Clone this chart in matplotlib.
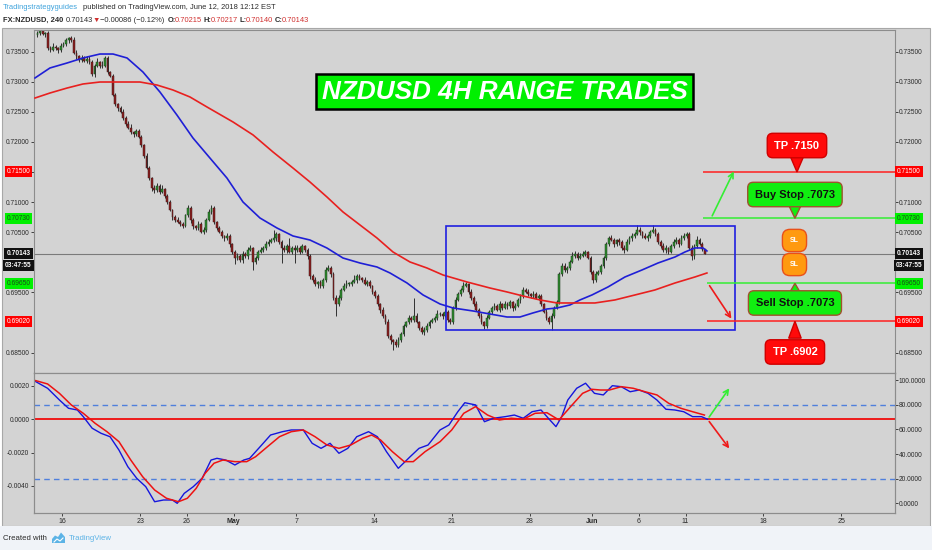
import numpy as np
import matplotlib.pyplot as plt
from matplotlib.patches import Rectangle, Polygon
from matplotlib.ticker import FormatStrFormatter
import matplotlib.transforms as mtransforms

plt.rcParams['font.family'] = ['Liberation Sans', 'DejaVu Sans']

W, H = 932, 550

# ---------------- data (x in trading days, Apr 16 2018 = 0) ----------------
bar_start_day = -1.6
first_open = 0.7378
closes = [
    0.7381, 0.7384, 0.7379, 0.7381, 0.7356, 0.7353, 0.7358, 0.7356, 0.7353, 0.7359,
    0.7363, 0.7369, 0.7373, 0.7369, 0.7348, 0.7343, 0.7336, 0.7339, 0.7334, 0.7338,
    0.7333, 0.7313, 0.7326, 0.7333, 0.7326, 0.7326, 0.7339, 0.7316, 0.7310, 0.7278,
    0.7263, 0.7256, 0.7250, 0.7240, 0.7230, 0.7223, 0.7216, 0.7213, 0.7218, 0.7208,
    0.7195, 0.7177, 0.7157, 0.7140, 0.7123, 0.7120, 0.7127, 0.7117, 0.7122, 0.7110,
    0.7100, 0.7087, 0.7075, 0.7070, 0.7067, 0.7064, 0.7060, 0.7079, 0.7090, 0.7070,
    0.7060, 0.7057, 0.7064, 0.7050, 0.7054, 0.7070, 0.7084, 0.7090, 0.7067, 0.7057,
    0.7050, 0.7044, 0.7040, 0.7044, 0.7030, 0.7017, 0.7007, 0.7010, 0.7004, 0.7014,
    0.7010, 0.7020, 0.7024, 0.7000, 0.7007, 0.7017, 0.7020, 0.7024, 0.7030, 0.7034,
    0.7037, 0.7040, 0.7047, 0.7034, 0.7024, 0.7020, 0.7027, 0.7017, 0.7024, 0.7020,
    0.7024, 0.7017, 0.7027, 0.7020, 0.7010, 0.6977, 0.6971, 0.6964, 0.6967, 0.6961,
    0.6971, 0.6987, 0.6991, 0.6981, 0.6941, 0.6931, 0.6941, 0.6954, 0.6961, 0.6964,
    0.6964, 0.6967, 0.6971, 0.6977, 0.6974, 0.6971, 0.6964, 0.6967, 0.6961, 0.6951,
    0.6944, 0.6931, 0.6921, 0.6911, 0.6901, 0.6878, 0.6871, 0.6868, 0.6863, 0.6871,
    0.6881, 0.6894, 0.6901, 0.6908, 0.6904, 0.6911, 0.6901, 0.6891, 0.6884, 0.6888,
    0.6894, 0.6901, 0.6904, 0.6908, 0.6914, 0.6914, 0.6911, 0.6918, 0.6904, 0.6901,
    0.6924, 0.6937, 0.6947, 0.6954, 0.6961, 0.6964, 0.6951, 0.6941, 0.6931, 0.6921,
    0.6911, 0.6901, 0.6894, 0.6908, 0.6918, 0.6924, 0.6927, 0.6921, 0.6931, 0.6924,
    0.6931, 0.6927, 0.6934, 0.6924, 0.6927, 0.6937, 0.6944, 0.6954, 0.6951, 0.6947,
    0.6944, 0.6947, 0.6941, 0.6944, 0.6931, 0.6918, 0.6908, 0.6901, 0.6911, 0.6924,
    0.6934, 0.6981, 0.6994, 0.6987, 0.6991, 0.7001, 0.7011, 0.7014, 0.7007, 0.7011,
    0.7014, 0.7017, 0.7007, 0.6984, 0.6971, 0.6981, 0.6984, 0.6994, 0.7007, 0.7030,
    0.7040, 0.7037, 0.7030, 0.7037, 0.7034, 0.7024, 0.7020, 0.7034, 0.7040, 0.7044,
    0.7047, 0.7054, 0.7050, 0.7044, 0.7040, 0.7044, 0.7050, 0.7054, 0.7047, 0.7034,
    0.7027, 0.7020, 0.7024, 0.7017, 0.7027, 0.7034, 0.7037, 0.7030, 0.7040, 0.7044,
    0.7047, 0.7024, 0.7010, 0.7027, 0.7037, 0.7030, 0.7022, 0.70143,
]
# wicks in pips beyond the body
wick_up = [
    4, 3, 5, 2, 3, 4, 6, 3, 2, 5, 3, 4, 2, 3, 5, 4, 2, 6, 3, 4,
    5, 3, 4, 6, 2, 8, 3, 4, 2, 3, 4, 2, 3, 5, 3, 4, 6, 2, 3, 4,
    3, 2, 4, 3, 2, 5, 4, 3, 6, 2, 3, 4, 2, 3, 5, 4, 3, 2, 5, 3,
    4, 2, 5, 3, 4, 3, 5, 5, 4, 2, 3, 4, 2, 5, 3, 2, 4, 6, 3, 4,
    3, 5, 4, 2, 3, 4, 5, 3, 6, 4, 3, 13, 4, 2, 3, 5, 4, 13, 3, 4,
    5, 3, 4, 2, 3, 4, 3, 5, 2, 4, 3, 5, 4, 2, 3, 4, 5, 3, 4, 6,
    3, 4, 8, 3, 4, 2, 5, 3, 4, 2, 3, 4, 2, 5, 3, 4, 3, 2, 4, 5,
    3, 4, 2, 5, 3, 30, 4, 2, 3, 4, 5, 3, 4, 2, 6, 3, 4, 5, 2, 3,
    4, 5, 3, 4, 6, 3, 2, 4, 3, 5, 3, 4, 2, 5, 3, 4, 6, 3, 4, 2,
    5, 3, 4, 2, 6, 3, 4, 5, 3, 4, 2, 5, 3, 4, 3, 2, 4, 3, 5, 3,
    4, 3, 5, 4, 2, 3, 6, 4, 3, 5, 4, 3, 2, 4, 3, 5, 4, 3, 4, 3,
    4, 5, 3, 2, 4, 3, 5, 4, 3, 4, 3, 8, 4, 2, 5, 3, 4, 8, 3, 4,
    3, 5, 4, 2, 3, 4, 5, 3, 6, 4, 4, 3, 5, 4, 6, 3, 4, 0,
]
wick_dn = [
    3, 4, 2, 5, 3, 4, 2, 3, 5, 4, 2, 3, 4, 3, 2, 5, 3, 4, 2, 3,
    4, 3, 5, 2, 4, 3, 2, 4, 3, 2, 3, 4, 2, 3, 4, 2, 3, 5, 3, 2,
    4, 3, 2, 3, 4, 5, 3, 4, 2, 3, 3, 2, 4, 3, 2, 4, 3, 2, 3, 4,
    5, 3, 4, 2, 3, 4, 2, 3, 4, 3, 2, 3, 4, 3, 5, 4, 10, 3, 4, 5,
    3, 4, 2, 13, 3, 4, 2, 3, 4, 3, 2, 3, 4, 3, 25, 3, 4, 2, 3, 22,
    3, 4, 2, 3, 4, 5, 3, 4, 6, 3, 4, 3, 2, 5, 4, 20, 3, 4, 2, 3,
    4, 3, 2, 5, 3, 4, 2, 3, 4, 3, 4, 3, 5, 4, 3, 4, 6, 14, 4, 3,
    3, 4, 2, 3, 4, 3, 2, 4, 3, 5, 3, 4, 2, 3, 4, 3, 5, 2, 4, 3,
    3, 4, 2, 3, 4, 2, 3, 4, 3, 2, 3, 4, 5, 3, 2, 4, 3, 2, 4, 3,
    2, 4, 3, 5, 3, 2, 4, 3, 2, 3, 4, 3, 2, 3, 4, 3, 4, 3, 13, 3,
    2, 3, 4, 3, 5, 3, 2, 4, 3, 2, 3, 4, 2, 4, 5, 3, 2, 4, 3, 4,
    3, 2, 4, 3, 5, 3, 4, 2, 3, 4, 3, 2, 4, 3, 2, 4, 3, 2, 4, 3,
    4, 3, 5, 3, 2, 4, 3, 4, 2, 3, 4, 3, 6, 4, 3, 2, 4, 0,
]

blue_ma_day = [-1.76, -0.80, 0.30, 1.32, 2.41, 3.25, 4.15, 5.17, 6.26, 7.35, 8.38, 9.47,
               10.56, 11.59, 12.68, 13.77, 14.80, 15.89, 16.98, 18.01, 19.10, 20.19, 21.03,
               22.12, 23.15, 24.24, 25.07, 26.36, 27.44, 28.54, 29.37, 30.20, 31.10, 31.75,
               32.58, 33.22, 33.99, 35.02, 36.11, 37.20, 38.23, 39.32, 39.96, 40.60, 41.12, 41.37]
blue_ma = [0.73062, 0.73228, 0.73311, 0.73394, 0.73460, 0.73460, 0.73394, 0.73161, 0.72829,
           0.72447, 0.72065, 0.71732, 0.71400, 0.71002, 0.70736, 0.70570, 0.70437, 0.70370,
           0.70237, 0.70071, 0.69988, 0.69922, 0.69822, 0.69656, 0.69457, 0.69307, 0.69241,
           0.69191, 0.69141, 0.69091, 0.69091, 0.69158, 0.69224, 0.69241, 0.69291, 0.69374,
           0.69457, 0.69590, 0.69756, 0.69872, 0.69988, 0.70088, 0.70171, 0.70238, 0.70238, 0.70188]
red_ma_day = [-1.76, -0.80, 0.30, 1.32, 2.41, 3.50, 4.98, 6.07, 7.10, 8.19, 9.28, 10.95,
              12.24, 13.52, 14.80, 15.89, 16.98, 18.01, 19.10, 20.19, 21.22, 22.31, 23.40,
              24.43, 25.97, 27.44, 28.54, 29.57, 30.66, 31.75, 32.90, 34.18, 35.46, 36.75,
              38.03, 39.32, 40.60, 41.37]
red_ma = [0.72729, 0.72812, 0.72895, 0.72962, 0.72995, 0.72995, 0.72995, 0.72945, 0.72862,
          0.72746, 0.72580, 0.72331, 0.72115, 0.71832, 0.71566, 0.71334, 0.71085, 0.70836,
          0.70620, 0.70404, 0.70171, 0.70005, 0.69905, 0.69789, 0.69673, 0.69573, 0.69507,
          0.69440, 0.69374, 0.69324, 0.69324, 0.69324, 0.69374, 0.69457, 0.69540, 0.69656,
          0.69756, 0.69822]

# oscillator, 0-100 scale
osc_blue_day = [-1.71, -0.95, -0.19, 0.39, 0.96, 1.34, 1.91, 2.48, 3.06, 3.63, 4.20, 4.77,
                5.35, 5.92, 6.49, 7.06, 7.37, 7.82, 8.40, 8.97, 9.54, 9.92, 10.49, 11.07,
                11.64, 12.02, 12.79, 13.36, 14.12, 14.69, 15.46, 16.03, 16.60, 17.18, 17.75,
                18.32, 18.89, 19.65, 20.22, 20.80, 21.56, 22.32, 22.89, 23.47, 24.24, 24.81,
                25.38, 25.83, 26.52, 27.09, 27.67, 28.43, 29.01, 29.58, 30.15, 30.72, 31.29,
                31.68, 32.05, 32.44, 33.01, 33.58, 34.15, 34.72, 35.30, 35.87, 36.44, 37.02,
                37.59, 38.16, 38.74, 39.31, 39.88, 40.45, 41.02, 41.41]
osc_blue = [98.7, 93.3, 83.8, 77.1, 75.7, 70.3, 60.9, 56.8, 54.0, 43.2, 29.7, 20.3,
            13.5, 1.3, 2.7, 2.7, 0.0, 8.1, 13.5, 20.3, 35.1, 36.5, 35.1, 31.1,
            35.1, 36.5, 47.3, 55.4, 58.1, 59.5, 59.5, 48.7, 44.6, 48.7, 40.6,
            44.6, 54.0, 58.1, 54.0, 41.9, 28.4, 37.8, 44.6, 47.3, 59.5, 63.5,
            74.3, 81.6, 79.8, 66.2, 69.0, 70.3, 71.6, 69.0, 74.3, 75.7, 67.6,
            62.2, 70.3, 83.8, 93.3, 97.4, 89.2, 87.9, 95.4, 94.6, 90.5, 91.9,
            89.2, 83.8, 76.3, 75.7, 74.3, 70.3, 70.3, 68.2]
osc_red_day = [-1.71, -0.95, -0.19, 0.57, 1.34, 2.10, 2.86, 3.63, 4.39, 5.15, 5.92, 6.68,
               7.45, 8.02, 8.59, 9.16, 9.73, 10.30, 11.07, 11.83, 12.40, 13.16, 13.93,
               14.69, 15.46, 16.22, 16.98, 17.75, 18.51, 19.27, 19.85, 20.42, 21.18, 21.94,
               22.52, 23.28, 24.24, 24.99, 25.76, 26.52, 27.29, 28.05, 28.81, 29.58, 30.34,
               31.10, 31.87, 32.62, 33.39, 33.97, 34.54, 35.11, 35.87, 36.64, 37.40, 38.16,
               38.92, 39.69, 40.45, 41.21]
osc_red = [99.5, 96.8, 89.2, 79.8, 73.0, 64.9, 58.1, 50.0, 35.1, 21.6, 10.8, 4.1,
           1.3, 4.1, 12.2, 24.3, 32.5, 35.1, 33.8, 33.8, 37.8, 45.9, 54.0,
           58.1, 59.5, 54.0, 47.3, 44.6, 47.3, 52.7, 55.4, 51.4, 41.9, 33.8,
           33.8, 41.9, 50.0, 59.5, 73.0, 78.4, 71.6, 67.6, 69.0, 68.2, 73.0,
           73.5, 67.6, 78.4, 89.2, 92.5, 91.9, 91.9, 94.6, 93.3, 90.5, 87.9,
           81.1, 77.1, 74.3, 71.6]

date_ticks = [0, 5, 8, 11, 15, 20, 25, 30, 34, 37, 40, 45, 50]
date_labels = ['16', '23', '26', 'May', '7', '14', '21', '28', 'Jun', '6', '11', '18', '25']
# 0.70000 and 0.69000 are hidden behind the coloured level tags in the original
price_ticks = [0.735, 0.730, 0.725, 0.720, 0.715, 0.710, 0.705, 0.695, 0.685]

last_price = 0.70143
tp_high, buy_stop, sell_stop, tp_low = 0.7150, 0.7073, 0.6965, 0.6902
range_top, range_bottom, range_start, range_end = 0.7060, 0.68875, 24.62, 43.17

osc_upper, osc_lower, osc_zero = 80, 20, 68.15
osc_per_unit = 13520  # oscillator-scale units per 1.0 of the left (price diff) scale
left_osc_ticks = [0.0020, 0.0000, -0.0020, -0.0040]
right_osc_ticks = [0, 20, 40, 60, 80, 100]

XLIM = (-1.855, 53.41)
PLOT_BG = '#d3d3d3'
FRAME = '#8c8c8c'
TXT = '#2a2a2a'


def fx(x):
    return x / W


def fy(y):
    return 1 - y / H


fig = plt.figure(figsize=(W / 100, H / 100), dpi=100)
fig.patch.set_facecolor('white')

# chart container and footer
fig.add_artist(Rectangle((fx(2), fy(526)), fx(928), (526 - 28) / H, transform=fig.transFigure,
                         facecolor=PLOT_BG, edgecolor='#a8a8a8', lw=0.8, zorder=0))
fig.add_artist(Rectangle((0, 0), 1, 24 / H, transform=fig.transFigure,
                         facecolor='#f0f3f8', edgecolor='none', zorder=0))

ax = fig.add_axes([fx(33.5), fy(372.5), (894.5 - 33.5) / W, (372.5 - 30) / H])
ax2 = fig.add_axes([fx(33.5), fy(512.7), (894.5 - 33.5) / W, (512.7 - 372.5) / H], sharex=ax)
for a in (ax, ax2):
    a.set_facecolor(PLOT_BG)
    for s in a.spines.values():
        s.set_color(FRAME)
        s.set_linewidth(0.8)

# ---------------- candles ----------------
closes = np.array(closes)
opens = np.concatenate([[first_open], closes[:-1]])
highs = np.maximum(opens, closes) + np.array(wick_up) * 1e-4
lows = np.minimum(opens, closes) - np.array(wick_dn) * 1e-4
days = bar_start_day + np.arange(len(closes)) / 6.0
up = closes >= opens

ax.vlines(days, lows, highs, color='#303030', lw=0.7, zorder=2)
body_lo = np.minimum(opens, closes)
body_h = np.maximum(np.abs(closes - opens), 0.00008)
ax.bar(days[up], body_h[up], bottom=body_lo[up], width=0.115, color='#2e8b2e',
       edgecolor='#1d3d1d', lw=0.35, zorder=2)
ax.bar(days[~up], body_h[~up], bottom=body_lo[~up], width=0.115, color='#8b1c1c',
       edgecolor='#3d1d1d', lw=0.35, zorder=2)

ax.plot(blue_ma_day, blue_ma, color='#1f1fd6', lw=1.2, zorder=3)
ax.plot(red_ma_day, red_ma, color='#e8201f', lw=1.2, zorder=3)

ax.axhline(last_price, color='#7a7a7a', lw=0.8, zorder=1)

# range box, levels and arrows
ax.add_patch(Rectangle((range_start, range_bottom), range_end - range_start, range_top - range_bottom,
                       fill=False, edgecolor='#2020e0', lw=1.2, zorder=4))
ax.hlines([tp_high], 41.12, XLIM[1], color='#ff2020', lw=1.1, zorder=4)
ax.hlines([buy_stop], 41.12, XLIM[1], color='#33ee33', lw=1.1, zorder=4)
ax.hlines([sell_stop], 41.37, XLIM[1], color='#33ee33', lw=1.1, zorder=4)
ax.hlines([tp_low], 41.37, XLIM[1], color='#ff2020', lw=1.1, zorder=4)
ax.annotate('', xy=(43.17, 0.71550), xytext=(41.63, buy_stop),
            arrowprops=dict(arrowstyle='->', color='#33ee33', lw=1.2, mutation_scale=9), zorder=5)
ax.annotate('', xy=(43.04, 0.69025), xytext=(41.44, sell_stop),
            arrowprops=dict(arrowstyle='->', color='#ee1a1a', lw=1.2, mutation_scale=9), zorder=5)

# title
ax.text(28.38, 0.72837, 'NZDUSD 4H RANGE TRADES', ha='center', va='center', fontsize=18.8,
        fontweight='bold', fontstyle='italic', color='white', zorder=6,
        bbox=dict(boxstyle='square,pad=0.2', fc='#00f000', ec='black', lw=1.8))


def callout(x, y, tip, text, fc, ec, tc, size=8, pad=0.65, hw=0.4):
    base = y - (y - tip) * 0.45
    ax.add_patch(Polygon([(x - hw, base), (x + hw, base), (x, tip)], closed=True,
                         facecolor=fc, edgecolor=ec, lw=1.0, zorder=6))
    ax.text(x, y, text, ha='center', va='center', fontsize=size, fontweight='bold', color=tc,
            zorder=7, bbox=dict(boxstyle='round,pad=%s,rounding_size=0.5' % pad, fc=fc, ec=ec, lw=1.0))


callout(47.15, 0.71940, tp_high, 'TP .7150', '#ff0a0a', '#d00000', 'white')
callout(47.02, 0.71126, buy_stop, 'Buy Stop .7073', '#11ee11', '#a0522d', '#111111')
callout(47.02, 0.69324, sell_stop, 'Sell Stop .7073', '#11ee11', '#a0522d', '#111111')
callout(47.02, 0.68510, tp_low, 'TP .6902', '#ff0a0a', '#d00000', 'white')
for yv in (0.70362, 0.69963):
    ax.text(46.99, yv, 'SL', ha='center', va='center', fontsize=5, fontweight='bold', color='white',
            zorder=7, bbox=dict(boxstyle='round,pad=1.1', fc='#ff9a10', ec='#e8501a', lw=1.0))

ax.set_xlim(*XLIM)
ax.set_ylim(0.68169, 0.73859)
ax.set_yticks(price_ticks)
ax.yaxis.set_major_formatter(FormatStrFormatter('%.5f'))
ax.tick_params(axis='y', left=True, right=True, labelleft=True, labelright=True,
               labelsize=4.8, length=2, pad=1, colors=TXT, width=0.6)
ax.tick_params(axis='x', bottom=False, labelbottom=False)

# colored price labels on both scales
left_tr = mtransforms.blended_transform_factory(fig.transFigure, ax.transData)
tags = [(tp_high, '0.71500', '#ff0000', 'white'),
        (buy_stop, '0.70730', '#00f000', '#1a4d1a'),
        (last_price, '0.70143', '#111111', 'white'),
        (last_price - 0.0019, '03:47:55', '#111111', 'white'),
        (sell_stop, '0.69650', '#00f000', '#1a4d1a'),
        (tp_low, '0.69020', '#ff0000', 'white')]
for yv, s, bg, fg in tags:
    for xc in (fx(18.5), fx(909)):
        ax.text(xc, yv, s, transform=left_tr, ha='center', va='center', fontsize=4.8,
                color=fg, fontweight='bold' if bg == '#111111' else 'normal', zorder=8, clip_on=False,
                bbox=dict(boxstyle='square,pad=0.3', fc=bg, ec='none'))

# ---------------- oscillator panel ----------------
ax2.axhline(osc_upper, color='#4f7fdc', lw=1.0, ls=(0, (4, 3)), zorder=2)
ax2.axhline(osc_lower, color='#4f7fdc', lw=1.0, ls=(0, (4, 3)), zorder=2)
ax2.axhline(osc_zero, color='#ee1a1a', lw=1.4, zorder=2)
ax2.plot(osc_blue_day, osc_blue, color='#1515dd', lw=1.0, zorder=3)
ax2.plot(osc_red_day, osc_red, color='#ee1111', lw=1.1, zorder=4)
ax2.annotate('', xy=(42.91, 95.2), xytext=(41.41, osc_zero),
             arrowprops=dict(arrowstyle='->', color='#33ee33', lw=1.2, mutation_scale=9), zorder=5)
ax2.annotate('', xy=(42.91, 42.7), xytext=(41.41, osc_zero),
             arrowprops=dict(arrowstyle='->', color='#ee1a1a', lw=1.2, mutation_scale=9), zorder=5)

ylim2 = (-7.6, 106.1)
ax2.set_ylim(*ylim2)
ax2.set_yticks([osc_zero + v * osc_per_unit for v in left_osc_ticks])
ax2.set_yticklabels(['%.4f' % v for v in left_osc_ticks])
ax2.tick_params(axis='y', labelsize=4.8, length=2, pad=1, colors=TXT, width=0.6)
ax2.set_xticks(date_ticks)
ax2.set_xticklabels(date_labels)
for lab in ax2.get_xticklabels():
    if lab.get_text() in ('May', 'Jun'):
        lab.set_fontweight('bold')
ax2.tick_params(axis='x', labelsize=5, length=2, pad=2, colors=TXT, width=0.6)

ax2r = ax2.twinx()
ax2r.set_ylim(*ylim2)
ax2r.set_yticks(right_osc_ticks)
ax2r.set_yticklabels(['%.4f' % v for v in right_osc_ticks])
ax2r.tick_params(axis='y', labelsize=4.8, length=2, pad=1, colors=TXT, width=0.6)
for s in ax2r.spines.values():
    s.set_color(FRAME)
    s.set_linewidth(0.8)

# ---------------- header & footer ----------------
hs = 5.4
fig.text(fx(3), fy(7.3), 'Tradingstrategyguides', fontsize=hs, color='#3fa3dc', va='center')
fig.text(fx(83), fy(7.3), 'published on TradingView.com, June 12, 2018 12:12 EST',
         fontsize=hs, color=TXT, va='center')
red = '#d0302f'
header2 = [(3, 'FX:NZDUSD, 240', TXT, 'bold'), (66, '0.70143', TXT, 'normal'),
           (92, '\u25bc', red, 'normal'), (100, '\u22120.00086 (\u22120.12%)', TXT, 'normal'),
           (168, 'O:', TXT, 'bold'), (175, '0.70215', red, 'normal'),
           (204, 'H:', TXT, 'bold'), (211, '0.70217', red, 'normal'),
           (240, 'L:', TXT, 'bold'), (246, '0.70140', red, 'normal'),
           (275, 'C:', TXT, 'bold'), (282, '0.70143', red, 'normal')]
for x, s, c, wgt in header2:
    fig.text(fx(x), fy(20), s, fontsize=hs, color=c, fontweight=wgt, va='center',
             family=['Liberation Sans', 'DejaVu Sans'])

fig.text(fx(3), fy(538), 'Created with', fontsize=5.6, color=TXT, va='center')
logo = [(52, 543), (52, 539), (55, 535.5), (58, 537), (61, 532.5), (65, 537), (65, 543)]
fig.add_artist(Polygon([(fx(a), fy(b)) for a, b in logo], closed=True, transform=fig.transFigure,
                       facecolor='#5cb3e6', edgecolor='none'))
fig.add_artist(plt.Line2D([fx(54), fx(57), fx(60), fx(63)], [fy(542), fy(539), fy(541), fy(538)],
                          transform=fig.transFigure, color='white', lw=0.8))
fig.text(fx(69), fy(538), 'TradingView', fontsize=5.6, color='#5cb3e6', va='center')

fig.savefig('out.png', dpi=100, facecolor=fig.get_facecolor())
